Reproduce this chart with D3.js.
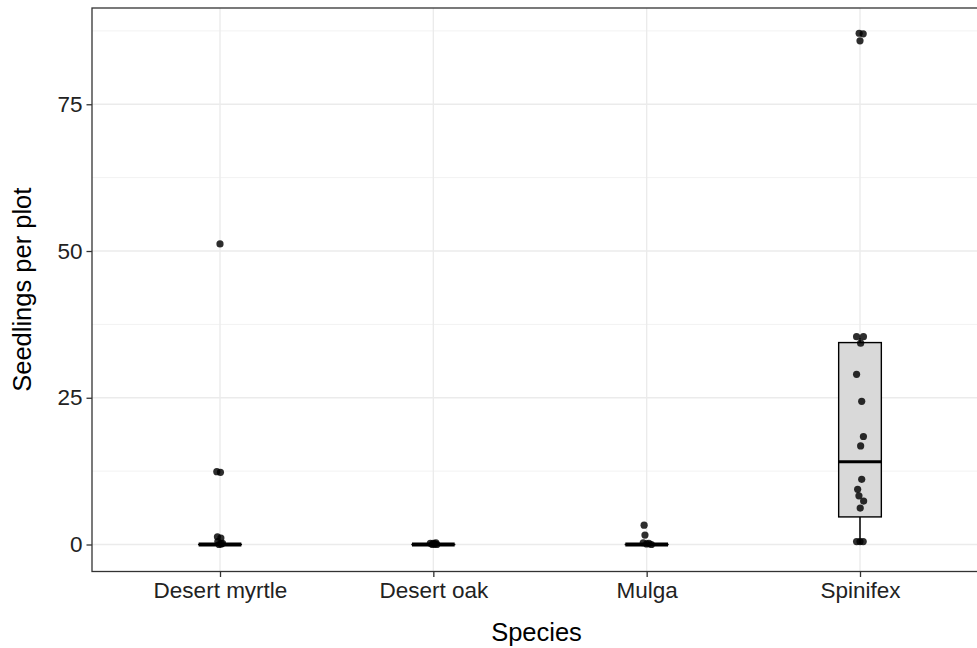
<!DOCTYPE html>
<html>
    <head>
        <title>Seedlings per plot</title>
        <script src="https://d3js.org/d3.v7.min.js"></script>
        <style>
            body { margin: 0; background: #fff; }
            svg { display: block; font-family: 'Liberation Sans', Arial, sans-serif; }
        </style>
    </head>
    <body>
        <svg id="chart" width="977" height="648"></svg>
        <script>
            // categories and box summaries
            var species = ['Desert myrtle', 'Desert oak', 'Mulga', 'Spinifex'];
            var boxLow = [0, 0, 0, 0];
            var boxQ1 = [0, 0, 0, 4.7];
            var boxMedian = [0, 0, 0, 14.1];
            var boxQ3 = [0, 0, 0, 34.4];
            var boxHigh = [0, 0, 0, 35.2];

            // jittered points: [value, horizontal jitter in category steps]
            var myrtlePoints = [[51.2, 0], [12.4, -0.015], [12.3, 0.002], [1.3, -0.012], [1.1, 0.004],
                [0.5, -0.01], [0.1, 0.006], [0.2, 0.012], [0, -0.004]];
            var oakPoints = [[0.2, -0.014], [0, -0.004], [0.1, 0.006], [0.3, 0.012], [0, 0.016], [0.2, 0]];
            var mulgaPoints = [[3.3, -0.012], [1.6, -0.008], [0.3, -0.016], [0.1, 0], [0.2, 0.01], [0, 0.022]];
            var spinifexPoints = [[87.1, -0.004], [87.0, 0.015], [85.8, 0], [35.4, -0.016], [35.4, 0.016],
                [34.3, 0.003], [29.0, -0.016], [24.4, 0.008], [18.4, 0.016], [16.8, 0.003], [11.1, 0.008],
                [9.4, -0.011], [8.3, -0.005], [7.4, 0.017], [6.2, 0.001], [0.5, -0.016], [0.5, 0], [0.5, 0.015]];
            var allPoints = [myrtlePoints, oakPoints, mulgaPoints, spinifexPoints];

            var yTicks = [0, 25, 50, 75];
            var yMinor = [12.5, 37.5, 62.5, 87.5];
            var yLimits = [-4.6, 91.4];

            var svg = d3.select('#chart');
            var pLeft = 92, pTop = 8, pBottom = 571.5, pRight = 988;

            var x = d3.scalePoint().domain(species).range([pLeft, pRight]).padding(0.6);
            var y = d3.scaleLinear().domain(yLimits).range([pBottom, pTop]);
            var step = x.step();

            var panel = svg.append('g');

            // grid
            panel.selectAll('.minor').data(yMinor).enter().append('line')
                .attr('x1', pLeft).attr('x2', pRight)
                .attr('y1', (d) => y(d)).attr('y2', (d) => y(d))
                .style('stroke', '#f2f2f2').style('stroke-width', 1);
            panel.selectAll('.majory').data(yTicks).enter().append('line')
                .attr('x1', pLeft).attr('x2', pRight)
                .attr('y1', (d) => y(d)).attr('y2', (d) => y(d))
                .style('stroke', '#ebebeb').style('stroke-width', 1.4);
            panel.selectAll('.majorx').data(species).enter().append('line')
                .attr('x1', (d) => x(d)).attr('x2', (d) => x(d))
                .attr('y1', pTop).attr('y2', pBottom)
                .style('stroke', '#ebebeb').style('stroke-width', 1.4);

            // boxes
            var boxW = step * 0.2;
            species.forEach(function (s, i) {
                var cx = x(s);
                panel.append('line')
                    .attr('x1', cx).attr('x2', cx)
                    .attr('y1', y(boxLow[i])).attr('y2', y(boxQ1[i]))
                    .style('stroke', '#000').style('stroke-width', 1.5);
                panel.append('line')
                    .attr('x1', cx).attr('x2', cx)
                    .attr('y1', y(boxQ3[i])).attr('y2', y(boxHigh[i]))
                    .style('stroke', '#000').style('stroke-width', 1.5);
                panel.append('rect')
                    .attr('x', cx - boxW / 2).attr('width', boxW)
                    .attr('y', y(boxQ3[i])).attr('height', Math.max(0.01, y(boxQ1[i]) - y(boxQ3[i])))
                    .style('fill', '#d9d9d9').style('stroke', '#000').style('stroke-width', 1.4);
                panel.append('line')
                    .attr('x1', cx - boxW / 2).attr('x2', cx + boxW / 2)
                    .attr('y1', y(boxMedian[i])).attr('y2', y(boxMedian[i]))
                    .style('stroke', '#000').style('stroke-width', boxQ1[i] === boxQ3[i] ? 4.2 : 2.8);
            });

            // points
            species.forEach(function (s, i) {
                panel.selectAll('.pt' + i).data(allPoints[i]).enter().append('circle')
                    .attr('cx', (d) => x(s) + d[1] * step)
                    .attr('cy', (d) => y(d[0]))
                    .attr('r', 3.6)
                    .style('fill', '#000')
                    .style('opacity', 0.82);
            });

            // panel border
            svg.append('rect')
                .attr('x', pLeft).attr('y', pTop)
                .attr('width', pRight - pLeft).attr('height', pBottom - pTop)
                .style('fill', 'none').style('stroke', '#333').style('stroke-width', 1.3);

            // axes
            var yAxis = svg.append('g')
                .attr('transform', 'translate(' + pLeft + ',0)')
                .call(d3.axisLeft(y).tickValues(yTicks).tickSize(5.5).tickPadding(4));
            var xAxis = svg.append('g')
                .attr('transform', 'translate(0,' + pBottom + ')')
                .call(d3.axisBottom(x).tickSize(5.5).tickPadding(5));
            [yAxis, xAxis].forEach(function (a) {
                a.select('.domain').remove();
                a.selectAll('.tick line').style('stroke', '#333').style('stroke-width', 1.3);
                a.selectAll('.tick text')
                    .style('font-size', '22.5px')
                    .style('fill', '#222')
                    .style('font-family', "'Liberation Sans', Arial, sans-serif");
            });

            svg.append('text')
                .attr('x', (pLeft + 977) / 2 + 2).attr('y', 641)
                .attr('text-anchor', 'middle')
                .style('font-size', '25.5px')
                .text('Species');
            svg.append('text')
                .attr('transform', 'translate(31,' + (pTop + pBottom) / 2 + ') rotate(-90)')
                .attr('text-anchor', 'middle')
                .style('font-size', '25.5px')
                .text('Seedlings per plot');
        </script>
    </body>
</html>
